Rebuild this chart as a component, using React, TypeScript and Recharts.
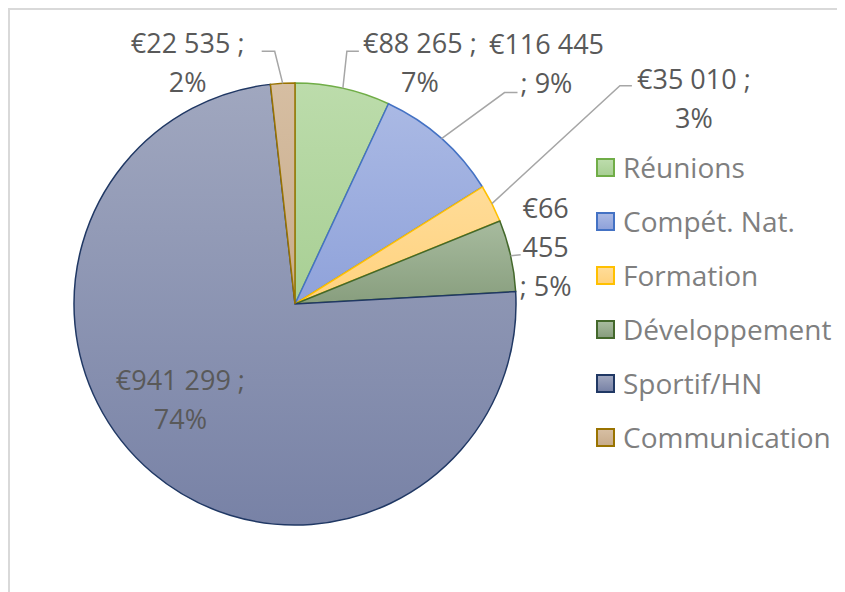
import React from 'react';
import { PieChart, Pie, Cell } from 'recharts';

// budget par poste
const categories = ['Réunions', 'Compét. Nat.', 'Formation', 'Développement', 'Sportif/HN', 'Communication'];
const amounts = [88265, 116445, 35010, 66455, 941299, 22535];

const total = amounts.reduce((a, b) => a + b, 0);
const data = categories.map((name, i) => ({ name, value: amounts[i] }));

// styling per slice
const FILL_TOP = ['#bcdcab', '#aab9e4', '#ffdc98', '#a7bb9e', '#a0a7bf', '#d6bea2'];
const FILL_BOTTOM = ['#a8cf94', '#8fa2da', '#ffd27e', '#889e7e', '#7882a6', '#c8ac8c'];
const STROKE = ['#70ad47', '#4472c4', '#ffc000', '#43682b', '#203864', '#997300'];

// label placement relative to the slice's outer point (excel manual positions)
const LABEL_LAYOUT = [
  { breaks: [3], line: [[4, -37], [16, -37]], text: [77, -46] },
  { breaks: [2], line: [[63, -46], [76, -46]], text: [105, -95] },
  { breaks: [3], line: [[128, -118], [140, -118]], text: [202, -125] },
  { breaks: [1, 2], line: [[10, -1]], text: [35, -48] },
  { breaks: [3], line: [], text: [28, -93] },
  { breaks: [3], line: [[-8, -32], [-21, -32]], text: [-95, -41] },
];

const LINE_H = 39;
const FONT = "'Open Sans', sans-serif";
const RAD = Math.PI / 180;

const fmt = (v: number) => '€' + v.toLocaleString('en-US').replace(/,/g, ' ');

const renderLabel = (props: any) => {
  const { cx, cy, midAngle, outerRadius, index, value } = props;
  const px = cx + outerRadius * Math.cos(-midAngle * RAD);
  const py = cy + outerRadius * Math.sin(-midAngle * RAD);
  const lay = LABEL_LAYOUT[index];
  const pct = Math.round((value / total) * 100) + '%';
  const tokens = [...fmt(value).split(' '), ';', pct];
  const lines: string[] = [];
  let start = 0;
  [...lay.breaks, tokens.length].forEach((b) => {
    lines.push(tokens.slice(start, b).join(' '));
    start = b;
  });
  const pts = [[px, py], ...lay.line.map(([dx, dy]) => [px + dx, py + dy])];
  return (
    <g key={`lbl-${index}`}>
      {pts.length > 1 && (
        <polyline
          points={pts.map((p) => p.join(',')).join(' ')}
          fill="none"
          stroke="#a6a6a6"
          strokeWidth={1.5}
        />
      )}
      {lines.map((t, i) => (
        <text
          key={i}
          x={px + lay.text[0]}
          y={py + lay.text[1] + i * LINE_H}
          textAnchor="middle"
          dominantBaseline="central"
          fill="#595959"
          fontSize={27}
          fontFamily={FONT}
        >
          {t}
        </text>
      ))}
    </g>
  );
};

export default function App() {
  return (
    <div
      style={{
        position: 'relative',
        width: 837,
        height: 582,
        borderLeft: '2px solid #d9d9d9',
        borderTop: '2px solid #d9d9d9',
        background: '#fff',
      }}
    >
      <PieChart width={835} height={582} margin={{ top: 0, right: 0, bottom: 0, left: 0 }}>
        <defs>
          {categories.map((c, i) => (
            <linearGradient key={c} id={`grad${i}`} x1="0" y1="0" x2="0" y2="1">
              <stop offset="0%" stopColor={FILL_TOP[i]} />
              <stop offset="100%" stopColor={FILL_BOTTOM[i]} />
            </linearGradient>
          ))}
        </defs>
        <Pie
          data={data}
          dataKey="value"
          nameKey="name"
          cx={285}
          cy={294}
          outerRadius={221}
          startAngle={90}
          endAngle={-270}
          label={renderLabel}
          labelLine={false}
          isAnimationActive={false}
        >
          {data.map((d, i) => (
            <Cell key={d.name} fill={`url(#grad${i})`} stroke={STROKE[i]} strokeWidth={1.5} />
          ))}
        </Pie>
      </PieChart>

      {/* legend */}
      <div style={{ position: 'absolute', left: 586, top: 130, fontFamily: FONT }}>
        {categories.map((c, i) => (
          <div key={c} style={{ display: 'flex', alignItems: 'center', height: 54 }}>
            <div
              style={{
                width: 15,
                height: 15,
                border: `2px solid ${STROKE[i]}`,
                background: `linear-gradient(${FILL_TOP[i]}, ${FILL_BOTTOM[i]})`,
                marginRight: 8,
              }}
            />
            <span style={{ fontSize: 28, color: '#7f7f7f', whiteSpace: 'nowrap' }}>{c}</span>
          </div>
        ))}
      </div>
    </div>
  );
}
